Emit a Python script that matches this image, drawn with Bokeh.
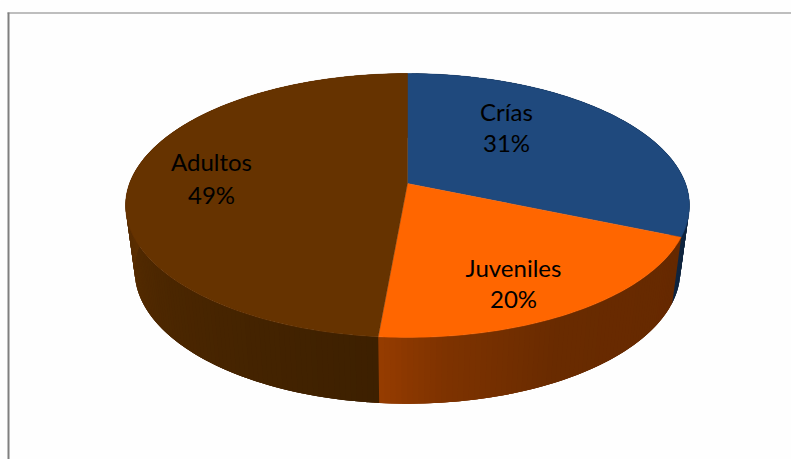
import math

from bokeh.core.properties import value
from bokeh.embed import file_html
from bokeh.models import Range1d
from bokeh.plotting import figure
from bokeh.resources import INLINE

# Share of each age class, drawn clockwise from twelve o'clock
categories = ["Crías", "Juveniles", "Adultos"]
shares = [31.4, 20.0, 48.6]

top_colors = ["#1f497d", "#ff6600", "#663300"]

# Shading along each slice's rim, from the start of the slice to its end
rim_stops = [
    [(0.0, "#10253f"), (1.0, "#10253f")],
    [(0.0, "#662900"), (0.55, "#692b00"), (0.85, "#7f3300"), (1.0, "#963c00")],
    [(0.0, "#3d2000"), (0.25, "#4a2600"), (0.5, "#5c2f00"), (1.0, "#5c2f00")],
]

# Label anchors on the page, one per slice
label_x = [506, 513, 211]
name_y = [111, 267, 161]
pct_y = [142, 298, 194]

WIDTH, HEIGHT = 791, 459
TILT = 1 / 6  # foreshortening of the disc, near edge looks larger


def project(angle_deg, cx, cy, ax, by):
    """Perspective view of a point on a flat disc, angle clockwise from the top."""
    t = math.radians(angle_deg)
    u, v = math.sin(t), math.cos(t)
    s = 1 / (1 + TILT * v)
    return cx + ax * u * s, cy - by * v * s


def top_point(angle):
    return project(angle, 407, 183, 278, 128.3)


def base_point(angle):
    return project(angle, 407, 248, 269, 129.3)


def mix(stops, f):
    for (f0, c0), (f1, c1) in zip(stops, stops[1:]):
        if f <= f1:
            k = (f - f0) / (f1 - f0)
            rgb = [
                round(int(c0[i:i + 2], 16) * (1 - k) + int(c1[i:i + 2], 16) * k)
                for i in (1, 3, 5)
            ]
            return "#%02x%02x%02x" % tuple(rgb)
    return stops[-1][1]


p = figure(
    width=WIDTH,
    height=HEIGHT,
    x_range=Range1d(0, WIDTH),
    y_range=Range1d(HEIGHT, 0),
    output_backend="svg",
    toolbar_location=None,
    min_border=0,
)
p.axis.visible = False
p.grid.visible = False
p.outline_line_color = None
p.background_fill_color = "#fefefe"
p.border_fill_color = "#fefefe"

# Chart frame: only its top and left edges are in view
p.line([7, WIDTH], [12.5, 12.5], line_color="#7f7f7f", line_width=1)
p.line([8, 8], [12, 459], line_color="#7f7f7f", line_width=2)

# Running angle limits of the slices
limits = [0.0]
for share in shares:
    limits.append(limits[-1] + share * 3.6)

# Rim: narrow strips, each in its own shade, painted beneath the top face.
# Every strip runs on under the next one so that no seam shows between them.
xs, ys, fills = [], [], []
for i, stops in enumerate(rim_stops):
    start, stop = limits[i], limits[i + 1]
    n = max(2, int((stop - start) / 1.0))
    step = (stop - start) / n
    for j in range(n):
        a0 = start + step * j
        a1 = min(a0 + 3 * step, stop if i == len(rim_stops) - 1 else limits[i + 1] + step)
        pts = [top_point(a0), top_point(a0 + (a1 - a0) / 2), top_point(a1),
               base_point(a1), base_point(a0 + (a1 - a0) / 2), base_point(a0)]
        xs.append([q[0] for q in pts])
        ys.append([q[1] for q in pts])
        fills.append(mix(stops, (j + 0.5) / n))
p.patches(xs, ys, fill_color=fills, line_color=None)

# Top face: one wedge per slice, meeting at the projected hub
for i, color in enumerate(top_colors):
    start, stop = limits[i], limits[i + 1]
    n = max(2, int(stop - start))
    arc = [top_point(start + (stop - start) * j / n) for j in range(n + 1)]
    hub = top_point(0)[0], 183
    wx = [hub[0]] + [q[0] for q in arc]
    wy = [hub[1]] + [q[1] for q in arc]
    p.patch(wx, wy, fill_color=color, line_color=color, line_width=0.4)

# Category name above its rounded percentage
font = value("Lato")
for name, share, x, y0, y1 in zip(categories, shares, label_x, name_y, pct_y):
    p.text([x], [y0], text=[name], text_font=font, text_font_size="24px",
           text_align="center", text_baseline="middle", text_color="#000000")
    p.text([x], [y1], text=[f"{round(share)}%"], text_font=font, text_font_size="24px",
           text_align="center", text_baseline="middle", text_color="#000000")

open("out.html", "w").write(file_html(p, INLINE))
